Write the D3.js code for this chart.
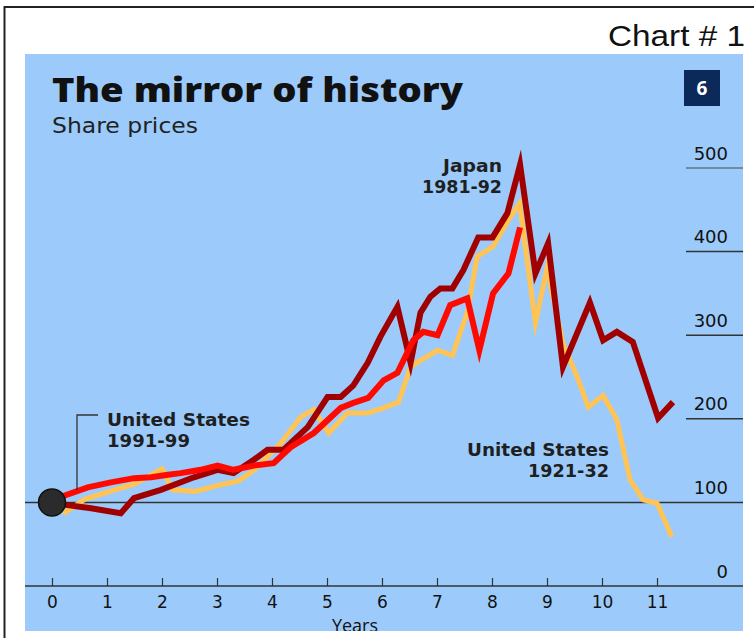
<!DOCTYPE html>
<html><head><meta charset="utf-8">
<script src="https://cdn.jsdelivr.net/npm/d3@7"></script>
<style>
html,body{margin:0;padding:0;background:#fff;}
svg{display:block;}
text{font-family:"Open Sans","DejaVu Sans",sans-serif;}
</style></head>
<body>
<script>
// ---- data ----
const yearTicks = [0,1,2,3,4,5,6,7,8,9,10,11];
const valueTicks = [0,100,200,300,400,500];

const japanYears  = [0,0.25,0.71,1.25,1.49,1.98,2.58,3.01,3.30,3.67,3.92,4.21,4.65,5.01,5.25,5.48,5.74,5.97,6.28,6.52,6.70,6.88,7.06,7.28,7.48,7.75,8.01,8.28,8.51,8.79,9.02,9.29,9.78,10.02,10.27,10.56,11.02,11.29];
const japanValues = [100,97,93,87,105,115,130,139,135,151,163,163,190,226,226,240,267,298,334,267,327,346,356,356,378,417,417,446,504,374,410,262,339,294,304,292,201,220];

const us90Years  = [0,0.22,0.65,1.07,1.49,1.80,2.11,2.34,2.70,3.01,3.30,3.67,4.03,4.34,4.76,5.25,5.48,5.75,6.03,6.28,6.57,6.75,7.01,7.24,7.55,7.77,8.02,8.30,8.51];
const us90Values = [100,108,118,124,129,130,133,135,139,144,139,144,147,166,183,213,219,225,246,255,294,304,300,336,344,282,350,374,429];

const us20Years  = [0,0.24,0.6,1.0,1.5,2.0,2.2,2.6,3.0,3.4,3.7,4.16,4.52,4.76,5.03,5.37,5.74,6.03,6.30,6.52,6.70,7.01,7.28,7.55,7.73,8.02,8.33,8.50,8.79,9.0,9.29,9.55,9.75,10.02,10.27,10.51,10.75,11.0,11.27];
const us20Values = [100,88,104,112,122,140,115,113,120,126,140,171,202,211,183,207,207,213,220,262,270,282,276,327,394,406,441,458,315,380,290,250,214,228,199,127,103,99,59];

const W = 754, H = 638;
const svg = d3.select("body").append("svg").attr("width", W).attr("height", H);

// outer frame
svg.append("line").attr("x1",4.5).attr("x2",4.5).attr("y1",6).attr("y2",H).attr("stroke","#222").attr("stroke-width",2);
svg.append("line").attr("x1",4).attr("x2",W).attr("y1",7).attr("y2",7).attr("stroke","#222").attr("stroke-width",2);

svg.append("text").attr("x",608).attr("y",46).attr("textLength",137).attr("lengthAdjust","spacingAndGlyphs")
  .style("font-family","Arial, 'Liberation Sans', sans-serif").style("font-size","29px").attr("fill","#111").text("Chart # 1");

// panel
const panel = {x:25, y:54, w:718, h:577};
svg.append("defs").append("clipPath").attr("id","pc").append("rect")
  .attr("x",panel.x).attr("y",panel.y).attr("width",panel.w).attr("height",panel.h);
svg.append("rect").attr("x",panel.x).attr("y",panel.y).attr("width",panel.w).attr("height",panel.h).attr("fill","#9ccbfb");
const g = svg.append("g").attr("clip-path","url(#pc)");

const x = d3.scaleLinear().domain([0,11]).range([52,657]);
const y = d3.scaleLinear().domain([0,500]).range([586,168]);

// title
g.append("text").attr("x",52).attr("y",102).attr("textLength",411).attr("lengthAdjust","spacingAndGlyphs")
  .style("font-size","34px").style("font-weight","800").attr("fill","#111").text("The mirror of history");
g.append("text").attr("x",52).attr("y",133).attr("textLength",146).attr("lengthAdjust","spacingAndGlyphs")
  .style("font-family","'DejaVu Sans',sans-serif").style("font-size","21px").attr("fill","#222").text("Share prices");
g.append("rect").attr("x",684).attr("y",70).attr("width",36).attr("height",36).attr("fill","#0b2a5a");
g.append("text").attr("x",702).attr("y",95).attr("text-anchor","middle").style("font-size","19px").style("font-weight","700").attr("fill","#fff").text("6");

// right-side gridlines & labels
valueTicks.filter(v=>v>0).forEach(v=>{
  g.append("line").attr("x1", v===100 ? panel.x : 686).attr("x2",743)
    .attr("y1",y(v)).attr("y2",y(v))
    .attr("stroke", v===500 ? "#6f8aa3" : "#333").attr("stroke-width", v===500 ? 2 : 1.5);
});
const yAxis = d3.axisRight(y).tickValues(valueTicks).tickSize(0).tickFormat(d3.format("d"));
const ya = g.append("g").attr("transform","translate(728,-9)").call(yAxis);
ya.select(".domain").remove();
ya.selectAll("text").attr("x",0).attr("dy",0).attr("text-anchor","end")
  .style("font-size","18px").style("font-family","'DejaVu Sans',sans-serif").attr("fill","#111");

// x axis
const xAxis = d3.axisTop(x).tickValues(yearTicks).tickSize(8).tickFormat(d3.format("d"));
const xa = g.append("g").attr("transform","translate(0,586)").call(xAxis);
xa.select(".domain").remove();
g.append("line").attr("x1",panel.x).attr("x2",743).attr("y1",586).attr("y2",586).attr("stroke","#333").attr("stroke-width",1.5);
xa.selectAll(".tick line").attr("stroke","#333").attr("stroke-width",1.2);
xa.selectAll("text").attr("y",22).attr("dy",0)
  .style("font-size","17px").style("font-family","'DejaVu Sans',sans-serif").attr("fill","#111");
g.append("text").attr("x",355).attr("y",632).attr("text-anchor","middle").style("font-size","18px").attr("fill","#111").text("Years");

// lines
const line = d3.line().x(d=>x(d[0])).y(d=>y(d[1]));
const series = [
  {yrs:us20Years, vals:us20Values, color:"#ffc454", w:5},
  {yrs:japanYears, vals:japanValues, color:"#a10000", w:6},
  {yrs:us90Years, vals:us90Values, color:"#ff0a00", w:6}
];
series.forEach(s=>{
  g.append("path").datum(s.yrs.map((t,i)=>[t,s.vals[i]]))
    .attr("d",line).attr("fill","none").attr("stroke",s.color).attr("stroke-width",s.w)
    .attr("stroke-linejoin","miter").attr("stroke-miterlimit",6);
});

// start dot
g.append("circle").attr("cx",x(0)).attr("cy",y(100)).attr("r",13.5).attr("fill","#2b2b2b").attr("stroke","#111").attr("stroke-width",1.5);

// annotations
g.append("path").attr("d",`M${x(0)+25},490 V415 H98`).attr("fill","none").attr("stroke","#333").attr("stroke-width",1.3);
const ann = (tx,ty,lines,widths,anchor)=>{
  lines.forEach((l,i)=>{
    const lx = anchor==="end" ? tx - widths[i] : tx;
    g.append("text").attr("x",lx).attr("y",ty + i*21)
      .attr("textLength",widths[i]).attr("lengthAdjust","spacingAndGlyphs")
      .style("font-family","'DejaVu Sans',sans-serif")
      .style("font-size","17px").style("font-weight","700").attr("fill","#1f1f1f").text(l);
  });
};
ann(107,426,["United States","1991-99"],[143,83],"start");
ann(502,172,["Japan","1981-92"],[59,80],"end");
ann(609,456,["United States","1921-32"],[142,81],"end");
</script>
</body></html>
